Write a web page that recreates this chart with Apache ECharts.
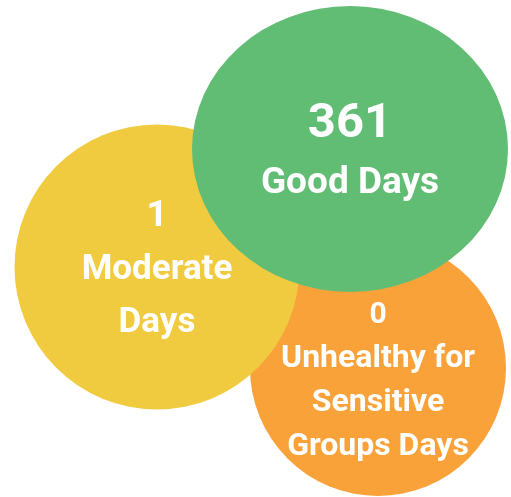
<!doctype html>
<html lang="en">
<head>
    <meta charset="UTF-8">
    <title>Air quality days</title>
    <script src="https://cdn.jsdelivr.net/npm/echarts@6.0.0/dist/echarts.min.js"></script>
    <style>
        html, body { margin: 0; padding: 0; background: #fff; }
        #chart { width: 511px; height: 497px; }
    </style>
</head>
<body>
<div id="chart"></div>
<script>
    // data
    const categories = ['Unhealthy for\nSensitive\nGroups Days', 'Moderate\nDays', 'Good Days'];
    const dayCounts = [0, 1, 361];
    const bubbleColors = ['#F9A23A', '#F1CB3F', '#62BD74'];

    // layout (pixel space, y down) for each bubble, same order as above
    const centers = [[378, 368], [157, 267], [350, 149]];
    const sizes = [[256, 256], [285, 285], [316, 286]];
    const textStyles = [
        { num: 30, name: 32, lh: 44, dy: 13 },
        { num: 37, name: 35, lh: 53, dy: 3 },
        { num: 49, name: 37, lh: 59, dy: 5 }
    ];

    const chart = echarts.init(document.getElementById('chart'));

    const series = categories.map((name, i) => ({
        type: 'scatter',
        z: i + 2,
        silent: true,
        animation: false,
        symbol: 'circle',
        symbolSize: sizes[i],
        itemStyle: { color: bubbleColors[i], opacity: 1 },
        label: {
            show: true,
            position: 'inside',
            offset: [0, textStyles[i].dy],
            color: '#fff',
            fontFamily: 'Roboto',
            fontWeight: 'bold',
            formatter: () => '{n|' + dayCounts[i] + '}\n' +
                name.split('\n').map(s => '{t|' + s + '}').join('\n'),
            rich: {
                n: { fontSize: textStyles[i].num, lineHeight: textStyles[i].lh, fontWeight: 'bold', fontFamily: 'Roboto', color: '#fff' },
                t: { fontSize: textStyles[i].name, lineHeight: textStyles[i].lh, fontWeight: 'bold', fontFamily: 'Roboto', color: '#fff' }
            }
        },
        data: [{ name: name, value: [centers[i][0], centers[i][1], dayCounts[i]] }]
    }));

    chart.setOption({
        animation: false,
        grid: { left: 0, right: 0, top: 0, bottom: 0 },
        xAxis: { type: 'value', min: 0, max: 511, show: false },
        yAxis: { type: 'value', min: 0, max: 497, inverse: true, show: false },
        series: series
    });
</script>
</body>
</html>
